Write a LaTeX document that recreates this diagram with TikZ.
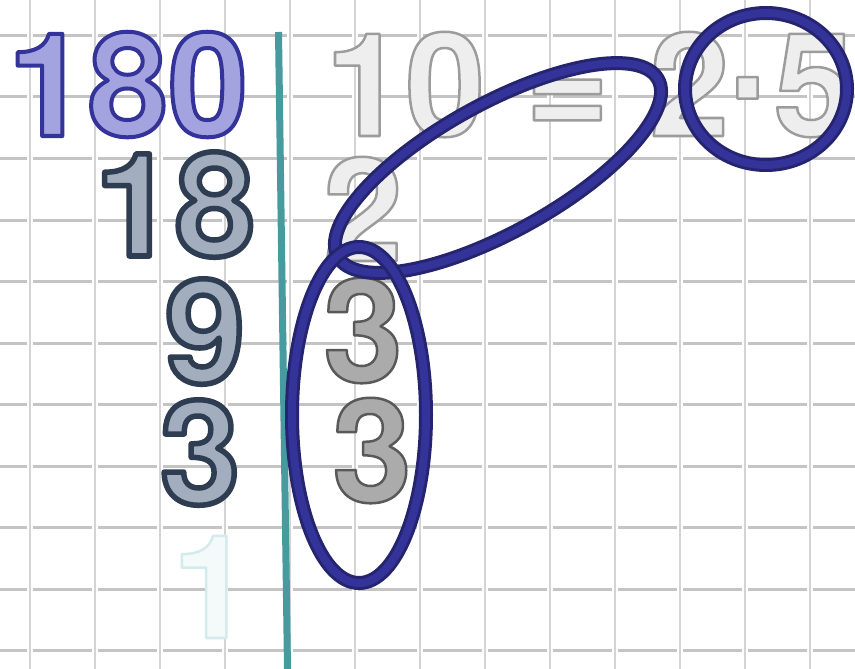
\documentclass[tikz,border=0pt]{standalone}
\usepackage{fontspec}
\setmainfont{TeX Gyre Heros}
\newfontfamily\squaredot{Liberation Sans}
\usepackage{xcolor}
\usepackage{tikz}

\definecolor{lilac}{HTML}{A3A3E0}
\definecolor{slate}{HTML}{A2ADBE}
\definecolor{ash}{HTML}{ABABAB}
\definecolor{mist}{HTML}{EEEEEE}
\definecolor{ghost}{HTML}{F4FAFA}
\definecolor{ringblue}{HTML}{333399}
\definecolor{ringdark}{HTML}{25256F}
\definecolor{tealbar}{HTML}{479A9E}
\definecolor{gridh}{HTML}{C4C4C4}
\definecolor{gridv}{HTML}{D4D4D4}

% outline for the glyphs: stroke colour, width
\newcommand\rim[2]{\special{pdf:literal direct #1 RG #2 w 1 j 2 Tr}}
\newcommand\unrim{\special{pdf:literal direct 0 Tr}}

\begin{document}
\begin{tikzpicture}[x=1pt,y=-1pt,
    num/.style={font=\bfseries\fontsize{144}{144}\selectfont,inner sep=0pt,anchor=base},
    hline/.style={draw=gridh,line width=3pt,dash pattern=on 59pt off 6pt},
    vline/.style={draw=gridv,line width=2.6pt},
    hoop/.style={draw=ringdark,line width=3pt,double=ringblue,double distance=8pt}]
  \useasboundingbox (0,0) rectangle (855,669);
  \fill[white] (0,0) rectangle (855,669);
  % squared paper
  \foreach \gx in {30,95,...,810}
    \draw[vline] (\gx,0) -- (\gx,669);
  \foreach \gy in {35.5,97,...,660}
    \draw[hline] (-32,\gy) -- (870,\gy);
  % division bar
  \draw[tealbar,line width=7pt] (278.5,32) -- (287.5,669);
  % left column
  \node[num,text=lilac] (n180) at (128,136) {\rim{0.2 0.2 0.6}{4}180\unrim};
  \node[num,text=slate] (n18) at (175,256) {\rim{0.18 0.24 0.32}{5.5}18\unrim};
  \node[num,text=slate] (n9) at (205,383) {\rim{0.18 0.24 0.32}{5.5}9\unrim};
  \node[num,text=slate] (n3) at (200,504) {\rim{0.18 0.24 0.32}{5.5}3\unrim};
  \node[num,text=ghost] (n1) at (212,638) {\rim{0.83 0.92 0.93}{2.5}1\unrim};
  % right column
  \node[num,text=mist,anchor=base west] (eq) at (325,136) {\rim{0.61 0.61 0.61}{2.5}10 = 2{\kern-2pt\squaredot·\kern-2pt}5\unrim};
  \node[num,text=mist] (f2) at (363,261) {\rim{0.61 0.61 0.61}{2.5}2\unrim};
  \node[num,text=ash] (f3a) at (363,382) {\rim{0.35 0.35 0.35}{2.5}3\unrim};
  \node[num,text=ash] (f3b) at (372,502) {\rim{0.35 0.35 0.35}{2.5}3\unrim};
  % rings
  \draw[hoop] (766,89) ellipse [x radius=81,y radius=76];
  \draw[hoop,rotate around={29:(498,168)}] (498,168) ellipse [x radius=183,y radius=64];
  \draw[hoop] (359,415) ellipse [x radius=67,y radius=168];
\end{tikzpicture}
\end{document}
